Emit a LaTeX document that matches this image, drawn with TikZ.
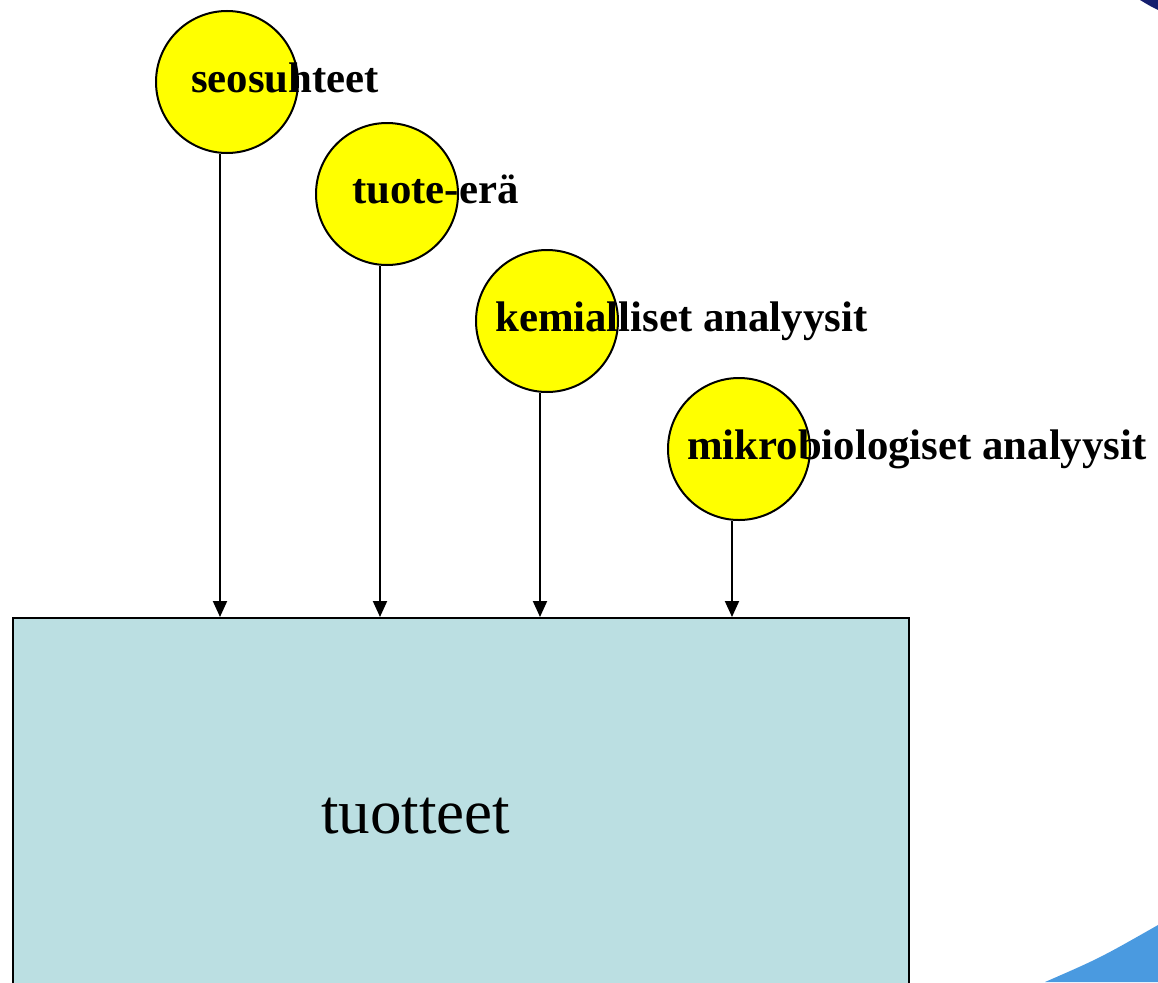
\documentclass[tikz,border=0pt]{standalone}
\usepackage{fontspec}
\setmainfont{Liberation Serif}
\usetikzlibrary{arrows.meta,positioning}

\begin{document}
\begin{tikzpicture}[x=1pt, y=-1pt, >={Triangle[length=16pt,width=14pt]},
    pallo/.style={circle, draw, line width=2pt, fill={rgb,255:red,255;green,255;blue,0}, minimum size=142pt, inner sep=0pt},
    teksti/.style={anchor=base west, inner sep=0pt, font=\fontsize{42.8}{46}\selectfont\bfseries},
    nuoli/.style={->, line width=2pt}]
  \useasboundingbox (0,0) rectangle (1158,982);
  \clip (0,0) rectangle (1158,982);
  % taustan kulmat
  \fill[fill={rgb,255:red,20;green,30;blue,110}] (1140,0) .. controls (1150,6) .. (1158,10) -- (1158,0) -- cycle;
  \fill[fill={rgb,255:red,74;green,154;blue,224}] (1045,982) .. controls (1100,958) .. (1158,925) -- (1158,982) -- cycle;
  % tuotteet
  \node (laatikko) [draw, line width=2pt, fill={rgb,255:red,187;green,223;blue,226},
    minimum width=896pt, minimum height=400pt, anchor=north west] at (12,617) {};
  \node (tuotteet) [anchor=base west, inner sep=0pt, font=\fontsize{63}{70}\selectfont] at (321,833) {tuotteet};
  % pallot
  \node (seos) [pallo] at (227,82) {};
  \node (era) [pallo] at (387,194) {};
  \node (kemia) [pallo] at (547,321) {};
  \node (mikro) [pallo] at (739,449) {};
  \node (seos-t) [teksti] at (191,92) {seosuhteet};
  \node (era-t) [teksti] at (352,203) {tuote-erä};
  \node (kemia-t) [teksti] at (495,331) {kemialliset analyysit};
  \node (mikro-t) [teksti] at (687,459) {mikrobiologiset analyysit};
  \draw[nuoli] ([xshift=-7pt]seos.south) -- ([xshift=-7pt]seos.south |- laatikko.north);
  \draw[nuoli] ([xshift=-7pt]era.south) -- ([xshift=-7pt]era.south |- laatikko.north);
  \draw[nuoli] ([xshift=-7pt]kemia.south) -- ([xshift=-7pt]kemia.south |- laatikko.north);
  \draw[nuoli] ([xshift=-7pt]mikro.south) -- ([xshift=-7pt]mikro.south |- laatikko.north);
\end{tikzpicture}
\end{document}
